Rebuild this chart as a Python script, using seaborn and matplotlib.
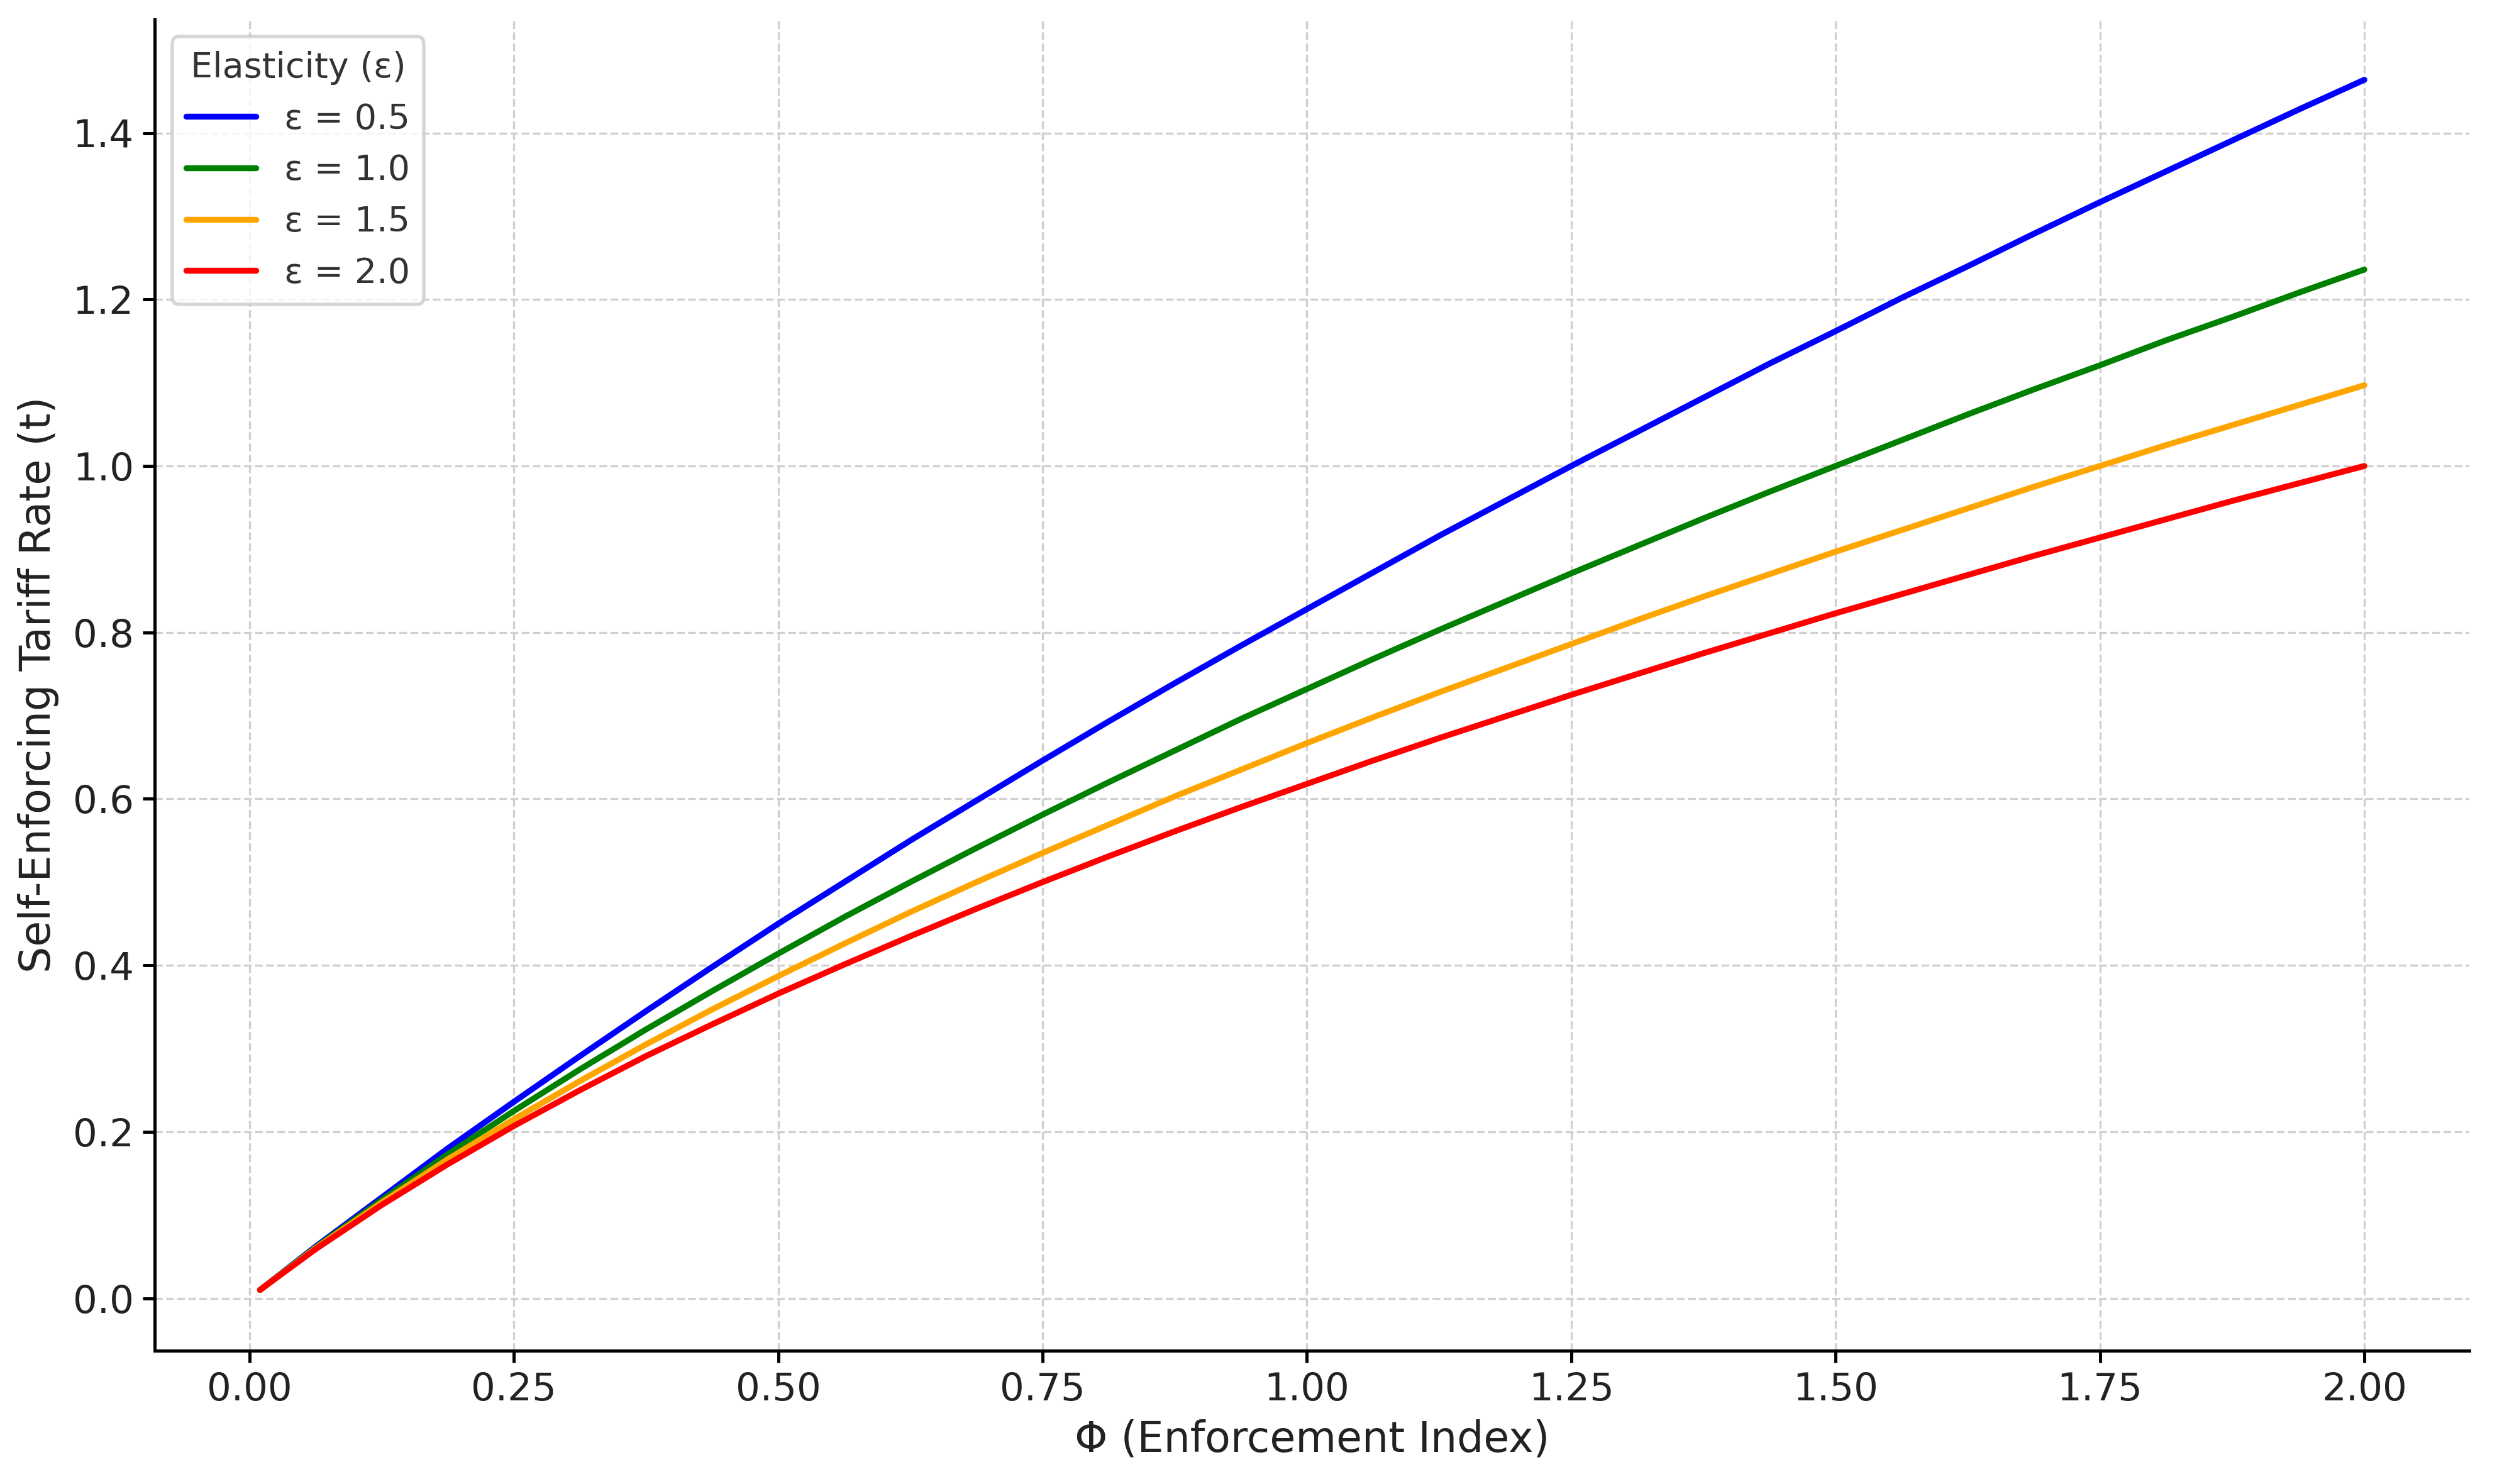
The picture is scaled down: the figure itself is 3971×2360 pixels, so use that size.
import pandas as pd
import matplotlib
matplotlib.use("Agg")
import matplotlib.pyplot as plt
import seaborn as sns

# valores
phi = [0.01, 0.0625, 0.125, 0.1875, 0.25, 0.3125, 0.375, 0.4375, 0.5,
       0.5625, 0.625, 0.6875, 0.75, 0.8125, 0.875, 0.9375, 1.0,
       1.0625, 1.125, 1.1875, 1.25, 1.3125, 1.375, 1.4375, 1.5,
       1.5625, 1.625, 1.6875, 1.75, 1.8125, 1.875, 1.9375, 2.0]
t_eps_05 = [0.010, 0.062, 0.121, 0.180, 0.236, 0.291, 0.345, 0.398, 0.450,
            0.500, 0.550, 0.598, 0.646, 0.693, 0.739, 0.784, 0.828,
            0.872, 0.916, 0.958, 1.000, 1.041, 1.082, 1.123, 1.162,
            1.202, 1.240, 1.279, 1.317, 1.354, 1.391, 1.428, 1.464]
t_eps_10 = [0.010, 0.061, 0.118, 0.173, 0.225, 0.275, 0.323, 0.369, 0.414,
            0.458, 0.500, 0.541, 0.581, 0.620, 0.658, 0.696, 0.732,
            0.768, 0.803, 0.837, 0.871, 0.904, 0.937, 0.969, 1.000,
            1.031, 1.062, 1.092, 1.121, 1.151, 1.179, 1.208, 1.236]
t_eps_15 = [0.010, 0.060, 0.115, 0.167, 0.215, 0.261, 0.305, 0.347, 0.387,
            0.426, 0.464, 0.500, 0.535, 0.569, 0.603, 0.635, 0.667,
            0.698, 0.728, 0.757, 0.786, 0.815, 0.843, 0.870, 0.897,
            0.923, 0.949, 0.975, 1.000, 1.025, 1.049, 1.073, 1.097]
t_eps_20 = [0.010, 0.059, 0.112, 0.161, 0.207, 0.250, 0.291, 0.329, 0.366,
            0.401, 0.435, 0.468, 0.500, 0.531, 0.561, 0.590, 0.618,
            0.646, 0.673, 0.699, 0.725, 0.750, 0.775, 0.799, 0.823,
            0.846, 0.869, 0.892, 0.914, 0.936, 0.958, 0.979, 1.000]

etiquetas = ["ε = 0.5", "ε = 1.0", "ε = 1.5", "ε = 2.0"]
colores = ["blue", "green", "orange", "red"]

filas = []
for etiqueta, serie in zip(etiquetas, [t_eps_05, t_eps_10, t_eps_15, t_eps_20]):
    for x, y in zip(phi, serie):
        filas.append({"phi": x, "t": y, "eps": etiqueta})
df = pd.DataFrame(filas)

sns.set_style("ticks", {"axes.grid": True, "grid.linestyle": "--",
                        "grid.color": "#d0d0d0", "axes.edgecolor": "black"})
plt.rcParams['font.family'] = ['DejaVu Sans']

fig, ax = plt.subplots(figsize=(3971 / 400, 2360 / 400), dpi=400)
fig.subplots_adjust(left=0.062, right=0.989, bottom=0.090, top=0.987)

sns.lineplot(data=df, x="phi", y="t", hue="eps", hue_order=etiquetas,
             palette=colores, linewidth=1.7, ax=ax, legend=False)

for etiqueta, color in zip(etiquetas, colores):
    ax.plot([], [], color=color, linewidth=1.7, label=etiqueta)

ax.grid(True, linestyle="--", linewidth=0.6, color="#d0d0d0")
ax.tick_params(axis="both", labelsize=11, length=3.5, width=0.9, pad=2.5,
               color="black", labelcolor="#222222")
for lado in ["top", "right"]:
    ax.spines[lado].set_visible(False)
for lado in ["left", "bottom"]:
    ax.spines[lado].set_linewidth(0.9)

ax.set_xlabel("Φ (Enforcement Index)", fontsize=12, color="#222222", labelpad=3)
ax.set_ylabel("Self-Enforcing Tariff Rate (t)", fontsize=12, color="#222222")

leg = ax.legend(title="Elasticity (ε)", loc="upper left", fontsize=10,
                title_fontsize=10, frameon=True, fancybox=True)
leg.get_frame().set_edgecolor("#cccccc")
for txt in leg.get_texts():
    txt.set_color("#333333")
leg.get_title().set_color("#333333")

fig.savefig("out.png", dpi=400)
